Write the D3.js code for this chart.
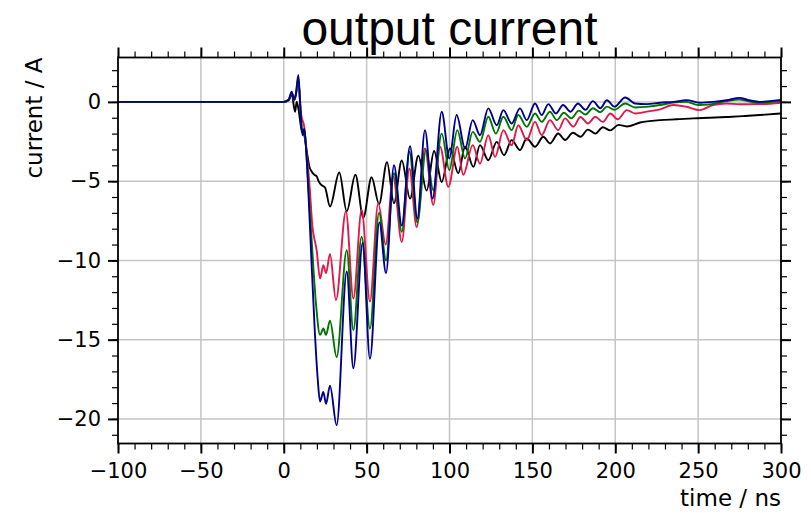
<!DOCTYPE html>
<html>
<head>
<meta charset="utf-8">
<script src="https://cdnjs.cloudflare.com/ajax/libs/d3/7.8.5/d3.min.js"></script>
<style>
    body { margin: 0; background: #ffffff; }
    svg { display: block; }
</style>
</head>
<body>
<svg id="chart"></svg>
<script>
    'use strict';

    // time / ns, current / A  (peaks and troughs)
    var blackTrace = [
        [-100, 0], [0, 0], [3, 0.1], [4.8, 0.5], [6.8, -0.62], [7.8, 0.0], [8.8, -0.4], [10.8, -1.8],
        [12.4, -2.1], [13.8, -3.05], [15.5, -4.1], [16.9, -4.4], [18.5, -4.6], [19.9, -4.7], [21, -5.0],
        [22.9, -5.26], [24.9, -5.4], [27.9, -6.6], [33.5, -4.45], [38, -6.9], [43.2, -4.6], [48, -7.3],
        [53, -4.75], [57.5, -6.45], [62.3, -3.8], [66.5, -6.4], [71.2, -3.7], [76.2, -6.1], [81.2, -3.4],
        [86.2, -5.6], [90.7, -3.1], [95.3, -5.05], [100.3, -2.94], [105.3, -4.5], [109.4, -2.83],
        [114.4, -4.1], [118.4, -2.73], [123.4, -3.68], [128.5, -2.52], [132.9, -3.36], [137.5, -2.41],
        [142.5, -3.04], [146.6, -2.31], [151.6, -2.83], [156.6, -2.2], [160.6, -2.62], [165.6, -1.99],
        [169.7, -2.4], [174.5, -1.95], [179, -2.2], [183.5, -1.75], [188, -2.0], [192.5, -1.6],
        [197, -1.8], [202, -1.45], [207, -1.55], [215, -1.3], [227, -1.15], [237, -1.1], [247, -1.04],
        [257, -1.0], [267, -0.95], [277, -0.9], [287, -0.83], [300, -0.73]
    ];

    var redTrace = [
        [-100, 0], [0, 0], [3, 0.1], [4.8, 0.6], [6.3, 0.1], [7.3, 0.4], [8.8, 1.3], [10.5, -0.8],
        [12.4, -1.6], [13.8, -3.2], [15.8, -5.6], [17, -7.5], [19.9, -9.4], [21.9, -11.15], [23.9, -10.3],
        [25.5, -10.8], [27.9, -9.6], [31.5, -12.5], [37.5, -6.9], [42, -12.4], [47, -6.8], [52, -12.6],
        [57, -6.4], [61.5, -9.0], [66, -4.7], [71.2, -8.84], [75.8, -4.2], [80.2, -7.9], [85.2, -2.94],
        [90.2, -6.5], [94.3, -2.83], [99.3, -5.36], [104.7, -2.83], [108.3, -4.6], [114, -2.73],
        [118.4, -3.9], [123.4, -2.1], [127.5, -3.47], [132.5, -1.78], [137.5, -2.73], [141.5, -1.47],
        [146.6, -2.41], [151.6, -1.26], [155.6, -2.1], [160.6, -1.15], [165.6, -1.78], [169.7, -1.04],
        [174.7, -1.57], [179, -0.95], [183.5, -1.36], [188, -0.94], [192.5, -1.26], [197, -0.73],
        [201.5, -1.1], [207, -0.52], [212, -0.73], [220, -0.6], [227, -0.47], [235, -0.2], [243, -0.31],
        [251, -0.52], [259, -0.2], [267, -0.1], [275, -0.15], [287, -0.14], [300, -0.05]
    ];

    var greenTrace = [
        [-100, 0], [0, 0], [3, 0.1], [4.8, 0.6], [6.3, 0.1], [7.3, 0.45], [8.8, 1.5], [10, -0.4],
        [11.3, -2.0], [12.4, -1.7], [13.5, -3.0], [15, -5.6], [17, -9.0], [19.5, -12.8], [21.9, -14.7],
        [23.9, -14.3], [25.5, -14.7], [27.9, -13.8], [31.9, -16.1], [38, -9.36], [42, -14.4], [47, -8.5],
        [52, -14.3], [57.5, -7.0], [61.7, -10.0], [66.5, -4.5], [71.2, -8.2], [75.8, -3.15], [80.6, -7.6],
        [85.8, -3.05], [90.2, -5.57], [95.3, -2.0], [99.9, -4.3], [104.7, -1.78], [109.4, -3.57],
        [114, -1.89], [118.4, -2.52], [123.4, -0.94], [128, -2.0], [132.5, -0.94], [137.5, -1.78],
        [141.5, -0.83], [146.6, -1.57], [151.6, -0.73], [155.6, -1.26], [160.6, -0.62], [164.7, -1.15],
        [169, -0.69], [173.5, -1.04], [178, -0.55], [182, -0.8], [186.5, -0.4], [191, -0.65], [195, -0.3],
        [199.5, -0.5], [206, -0.1], [212, -0.35], [220, -0.3], [227, -0.2], [235, -0.05], [243, 0.0],
        [250, -0.2], [258, -0.15], [267, 0.05], [275, 0.15], [285, -0.05], [300, 0.05]
    ];

    var blueTrace = [
        [-100, 0], [0, 0], [3, 0.15], [4.8, 0.65], [6.2, 0.15], [7.3, 0.5], [8.8, 1.7], [10, -0.3],
        [11.3, -2.1], [12.4, -1.7], [13.5, -3.0], [15, -6.0], [16.5, -9.5], [18.5, -14.0], [20.5, -17.5],
        [21.9, -18.9], [23.9, -18.3], [25.5, -19.05], [27.9, -17.9], [31.9, -20.4], [38, -10.7],
        [42, -16.8], [47.6, -8.9], [52, -16.2], [57.7, -7.6], [61.7, -10.8], [66.5, -4.0], [71.2, -7.8],
        [76.2, -2.8], [80.6, -7.36], [85.2, -1.78], [89.8, -6.1], [95.3, -0.62], [99.9, -3.57],
        [104.3, -0.83], [109.4, -2.94], [114, -1.15], [118.4, -2.1], [123.4, -0.41], [128.5, -1.47],
        [132.5, -0.52], [137.5, -1.36], [142.5, -0.41], [146.6, -1.15], [151.6, -0.1], [155.6, -0.83],
        [159.6, -0.14], [164.2, -0.73], [168.5, -0.2], [173, -0.62], [177.5, -0.1], [182, -0.5],
        [186.5, 0.05], [191, -0.4], [195, 0.1], [199.5, -0.3], [206, 0.28], [212, -0.1], [219, -0.14],
        [227, -0.05], [235, 0.0], [243, 0.11], [251, -0.05], [259, 0.0], [267, 0.1], [275, 0.25],
        [281, 0.1], [287, 0.0], [293, 0.05], [300, 0.12]
    ];

    var seriesColors = ['#000000', '#e0194b', '#007400', '#00008c'];
    var xMajorTicks = [-100, -50, 0, 50, 100, 150, 200, 250, 300];
    var yMajorTicks = [-20, -15, -10, -5, 0];
    var xMinorTicks = d3.range(-100, 301, 10);
    var yMinorTicks = d3.range(-21, 3, 1);

    var width = 811;
    var height = 513;
    var plotLeft = 118, plotRight = 781, plotTop = 57.5, plotBottom = 443.5;

    var svg = d3.select('#chart')
        .attr('width', width)
        .attr('height', height);

    var x = d3.scaleLinear().domain([-100, 300]).range([plotLeft, plotRight]);
    var y = d3.scaleLinear().domain([-21.55, 2.8]).range([plotBottom, plotTop]);

    svg.append('defs').append('clipPath')
        .attr('id', 'plot-clip')
        .append('rect')
        .attr('x', plotLeft).attr('y', plotTop)
        .attr('width', plotRight - plotLeft).attr('height', plotBottom - plotTop);

    // grid
    var grid = svg.append('g').attr('stroke', '#c4c4c4').attr('stroke-width', 1.5);
    grid.selectAll('.gx')
        .data(xMajorTicks.slice(1, -1))
        .enter().append('line')
        .attr('x1', function (d) { return x(d); })
        .attr('x2', function (d) { return x(d); })
        .attr('y1', plotTop).attr('y2', plotBottom);
    grid.selectAll('.gy')
        .data(yMajorTicks)
        .enter().append('line')
        .attr('y1', function (d) { return y(d); })
        .attr('y2', function (d) { return y(d); })
        .attr('x1', plotLeft).attr('x2', plotRight);

    var line = d3.line()
        .x(function (d) { return x(d[0]); })
        .y(function (d) { return y(d[1]); })
        .curve(d3.curveMonotoneX);

    svg.append('g')
        .attr('clip-path', 'url(#plot-clip)')
        .selectAll('path')
        .data([blackTrace, redTrace, greenTrace, blueTrace])
        .enter().append('path')
        .attr('d', line)
        .attr('fill', 'none')
        .attr('stroke', function (d, i) { return seriesColors[i]; })
        .attr('stroke-width', 1.9)
        .attr('stroke-linejoin', 'round');

    // frame
    svg.append('rect')
        .attr('x', plotLeft).attr('y', plotTop)
        .attr('width', plotRight - plotLeft).attr('height', plotBottom - plotTop)
        .attr('fill', 'none')
        .attr('stroke', '#000')
        .attr('stroke-width', 1.8);

    var fmt = d3.format('d');
    var tickFont = '"DejaVu Sans", sans-serif';

    function addAxis(axis, tx, ty, labels) {
        var g = svg.append('g')
            .attr('transform', 'translate(' + tx + ',' + ty + ')')
            .call(axis);
        g.select('.domain').remove();
        g.selectAll('text')
            .attr('font-family', tickFont)
            .attr('font-size', 21)
            .attr('fill', '#000');
        if (!labels) g.selectAll('text').remove();
        return g;
    }

    // major + minor ticks, outward on all four sides
    addAxis(d3.axisBottom(x).tickValues(xMajorTicks).tickFormat(fmt).tickSize(10).tickPadding(10), 0, plotBottom, true)
        .selectAll('line').attr('stroke-width', 2);
    addAxis(d3.axisBottom(x).tickValues(xMinorTicks).tickSize(6), 0, plotBottom, false)
        .selectAll('line').attr('stroke-width', 1.2);
    addAxis(d3.axisTop(x).tickValues(xMajorTicks).tickSize(10), 0, plotTop, false)
        .selectAll('line').attr('stroke-width', 2);
    addAxis(d3.axisTop(x).tickValues(xMinorTicks).tickSize(6), 0, plotTop, false)
        .selectAll('line').attr('stroke-width', 1.2);

    addAxis(d3.axisLeft(y).tickValues(yMajorTicks).tickFormat(fmt).tickSize(10).tickPadding(7), plotLeft, 0, true)
        .selectAll('line').attr('stroke-width', 2);
    addAxis(d3.axisLeft(y).tickValues(yMinorTicks).tickSize(6), plotLeft, 0, false)
        .selectAll('line').attr('stroke-width', 1.2);
    addAxis(d3.axisRight(y).tickValues(yMajorTicks).tickSize(10), plotRight, 0, false)
        .selectAll('line').attr('stroke-width', 2);
    addAxis(d3.axisRight(y).tickValues(yMinorTicks).tickSize(6), plotRight, 0, false)
        .selectAll('line').attr('stroke-width', 1.2);

    svg.append('text')
        .attr('x', (plotLeft + plotRight) / 2)
        .attr('y', 45)
        .attr('text-anchor', 'middle')
        .attr('font-family', '"Liberation Sans", Arial, sans-serif')
        .attr('font-size', 48)
        .text('output current');

    svg.append('text')
        .attr('transform', 'translate(41.5,' + plotTop + ') rotate(-90)')
        .attr('text-anchor', 'end')
        .attr('font-family', tickFont)
        .attr('font-size', 23)
        .text('current / A');

    svg.append('text')
        .attr('x', plotRight)
        .attr('y', 506)
        .attr('text-anchor', 'end')
        .attr('font-family', tickFont)
        .attr('font-size', 23)
        .text('time / ns');
</script>
</body>
</html>
